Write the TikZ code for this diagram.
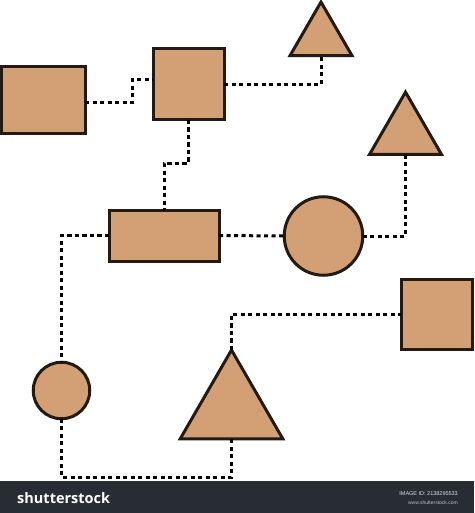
\documentclass[tikz,border=0pt]{standalone}
\usepackage{fontspec}
\setmainfont{Liberation Sans}
\newfontfamily\bannerfont{Open Sans}
\usetikzlibrary{shapes.geometric}
\definecolor{tan}{HTML}{D3A076}
\definecolor{edge}{HTML}{231A14}
\definecolor{banner}{HTML}{282C34}
\tikzset{
  shp/.style={draw=edge, fill=tan, line width=3pt, inner sep=0pt, outer sep=0pt},
  box/.style={shp, rectangle},
  ball/.style={shp, circle},
  tri/.style={shp, regular polygon, regular polygon sides=3},
  link/.style={draw=black, line width=3pt, dash pattern=on 4.2pt off 3.3pt},
}
\begin{document}
\begin{tikzpicture}[x=1pt,y=-1pt]
\useasboundingbox (0,0) rectangle (474,513);
% shapes
\node[box, minimum width=84pt, minimum height=67pt] (r1) at (43,100.5) {};
\node[box, minimum width=71pt, minimum height=71pt] (s2) at (188.5,84.5) {};
\node[tri, minimum size=71.6pt] (t1) at (321,37.8) {};
\node[tri, minimum size=83pt] (t2) at (405.5,133.6) {};
\node[box, minimum width=110pt, minimum height=51pt] (r3) at (164,235.5) {};
\node[ball, minimum size=78.5pt] (c1) at (323.5,236) {};
\node[box, minimum width=71pt, minimum height=70pt] (s4) at (436.5,314) {};
\node[ball, minimum size=56.5pt] (c2) at (61.5,390.5) {};
\node[tri, minimum size=118.6pt] (t3) at (231.5,409.3) {};
% connectors
\draw[link] ([yshift=-2.5pt]r1.east) -- ++(47,0) |- ([yshift=4.5pt]s2.west);
\draw[link] (s2.south) -- ++(0,43) -| (r3.north);
\draw[link] (s2.east) -| (t1.south);
\draw[link] (r3.east) -- (c1.west);
\draw[link] (c1.east) -| (t2.south);
\draw[link] (r3.west) -| (c2.north);
\draw[link] (c2.south) -- ++(0,58.5) coordinate (bl) -| (t3.south);
\draw[link] (t3.corner 1) |- (s4.west);
% banner
\fill[banner] (0,481) rectangle (474,513);
\node[anchor=base west, inner sep=0pt, text=white, font=\bannerfont\bfseries\fontsize{14.5}{16}\selectfont] (logo) at (17,503) {shutterstock};
\node[anchor=base east, inner sep=0pt, text=white!85!banner, font=\fontsize{5.5}{6}\selectfont] (imgid) at (458,495) {IMAGE ID: 2138295533};
\node[anchor=base east, inner sep=0pt, text=white!70!banner, font=\fontsize{5}{6}\selectfont] (www) at (458,504) {www.shutterstock.com};
\end{tikzpicture}
\end{document}
